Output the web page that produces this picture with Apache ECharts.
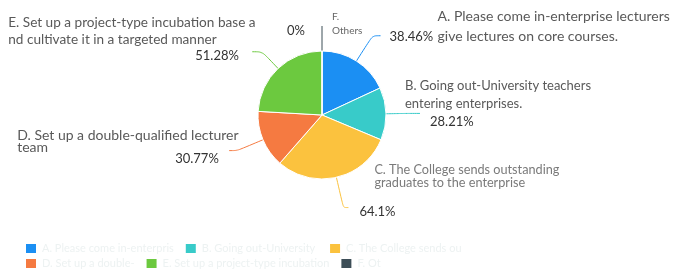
<!DOCTYPE html>
<html>
<head>
<meta charset="utf-8">
<script src="https://cdn.jsdelivr.net/npm/echarts@6/dist/echarts.min.js"></script>
<style>
html, body { margin: 0; padding: 0; background: #fff; }
#main { width: 681px; height: 271px; }
</style>
</head>
<body>
<div id="main"></div>
<script>
var categories = [
    'A. Please come in-enterprise lecturers\ngive lectures on core courses.',
    'B. Going out-University teachers\nentering enterprises.',
    'C. The College sends outstanding\ngraduates to the enterprise',
    'D. Set up a double-qualified lecturer\nteam',
    'E. Set up a project-type incubation base a\nnd cultivate it in a targeted manner',
    'F.\nOthers'
];
var values = [38.46, 28.21, 64.1, 30.77, 51.28, 0];
var colors = ['#1b8ff3', '#38cbc9', '#fbc23e', '#f57a41', '#6cc93f', '#3d4e57'];

// leader lines, per slice
var lineLen = [30, 20, 31, 28, 23, 25];
var lineLen2 = [8, 14, 5, 8, 10, 0];
// top-left of each label block, measured from the end of its leader line
var labelShift = [[9, -29], [-15, -37], [11, -44], [-212, -21], [-244, -38], [-35, -16]];
// legend text widths (two rows)
var legendTextW = [138, 120, 120, 97, 171, 30];

var myChart = echarts.init(document.getElementById('main'));

function labelText(p) {
    var l = p.name.split('\n');
    var v = p.value + '%';
    switch (p.dataIndex) {
        case 0: return '{s48| }{na|' + l[0] + '}\n{p48|' + v + '}{na|' + l[1] + '}';
        case 1: return '{nb|' + l[0] + '}\n{nb|' + l[1] + '}\n{s25| }{p18|' + v + '}';
        case 2: return '{s15| }{nc|' + l[0] + '}\n{s15| }{nc|' + l[1] + '}\n{p44|' + v + '}';
        case 3: return '{nd|' + l[0] + '}\n{nd|' + l[1] + '}\n{s158| }{p10|' + v + '}';
        case 4: return '{ne|' + l[0] + '}\n{ne|' + l[1] + '}\n{s187| }{p17|' + v + '}';
        default: return '{s45| }{nf|' + l[0] + '}\n{p45|' + v + '}{nf|' + l[1] + '}';
    }
}

var nameStyle = { fontSize: 13, color: '#595959', fontFamily: 'Lato' };
var pctStyle = { fontSize: 13, color: '#333', fontFamily: 'Lato' };
function st(base, extra) { return Object.assign({}, base, extra); }

var pieData = [];
for (var i = 0; i < values.length; i++) {
    pieData.push({
        name: categories[i],
        value: values[i],
        labelLine: { length: lineLen[i], length2: lineLen2[i] }
    });
}

var legendRows = [categories.slice(0, 3), categories.slice(3)];
var legends = legendRows.map(function (row, r) {
    return {
        left: 24,
        top: 242 + r * 15,
        orient: 'horizontal',
        icon: 'rect',
        itemWidth: 12,
        itemHeight: 11,
        itemGap: 10,
        padding: 0,
        selectedMode: false,
        formatter: function (name) { return name.replace('\n', ' '); },
        textStyle: { fontSize: 11, color: '#edf2f2', overflow: 'truncate', ellipsis: '' },
        data: row.map(function (name, k) {
            return { name: name, textStyle: { width: legendTextW[r * 3 + k] } };
        })
    };
});

option = {
    animation: false,
    color: colors,
    textStyle: { fontFamily: 'Lato' },
    legend: legends,
    series: [{
        type: 'pie',
        center: [322, 115],
        radius: 64,
        startAngle: 90,
        clockwise: true,
        avoidLabelOverlap: false,
        itemStyle: { borderColor: '#fff', borderWidth: 1 },
        label: {
            show: true,
            position: 'outside',
            width: 320,
            overflow: 'none',
            formatter: labelText,
            rich: {
                na: st(nameStyle, { fontSize: 14, lineHeight: 20 }),
                nb: st(nameStyle, { lineHeight: 18 }),
                nc: st(nameStyle, { fontSize: 12.7, color: '#7a7a7a', lineHeight: 13 }),
                nd: st(nameStyle, { fontSize: 14, lineHeight: 12 }),
                ne: st(nameStyle, { fontSize: 13.6, lineHeight: 17 }),
                nf: st(nameStyle, { fontSize: 10, color: '#666', lineHeight: 14 }),
                p48: st(pctStyle, { width: 48, lineHeight: 20 }),
                p45: st(pctStyle, { width: 45, lineHeight: 14 }),
                p18: st(pctStyle, { lineHeight: 18 }),
                p17: st(pctStyle, { lineHeight: 17 }),
                p10: st(pctStyle, { lineHeight: 10 }),
                p44: st(pctStyle, { lineHeight: 44 }),
                s48: { width: 48, fontSize: 1 },
                s45: { width: 45, fontSize: 1 },
                s25: { width: 25, fontSize: 1 },
                s15: { width: 15, fontSize: 1 },
                s158: { width: 158, fontSize: 1 },
                s187: { width: 187, fontSize: 1 }
            }
        },
        labelLine: { show: true, smooth: 0.3, lineStyle: { width: 1 } },
        labelLayout: function (p) {
            var pts = p.labelLinePoints;
            if (!pts) return {};
            var end = pts[pts.length - 1];
            var s = labelShift[p.dataIndex];
            return {
                x: end[0] + s[0],
                y: end[1] + s[1],
                align: 'left',
                verticalAlign: 'top',
                labelLinePoints: pts
            };
        },
        data: pieData
    }]
};

myChart.setOption(option);
</script>
</body>
</html>
